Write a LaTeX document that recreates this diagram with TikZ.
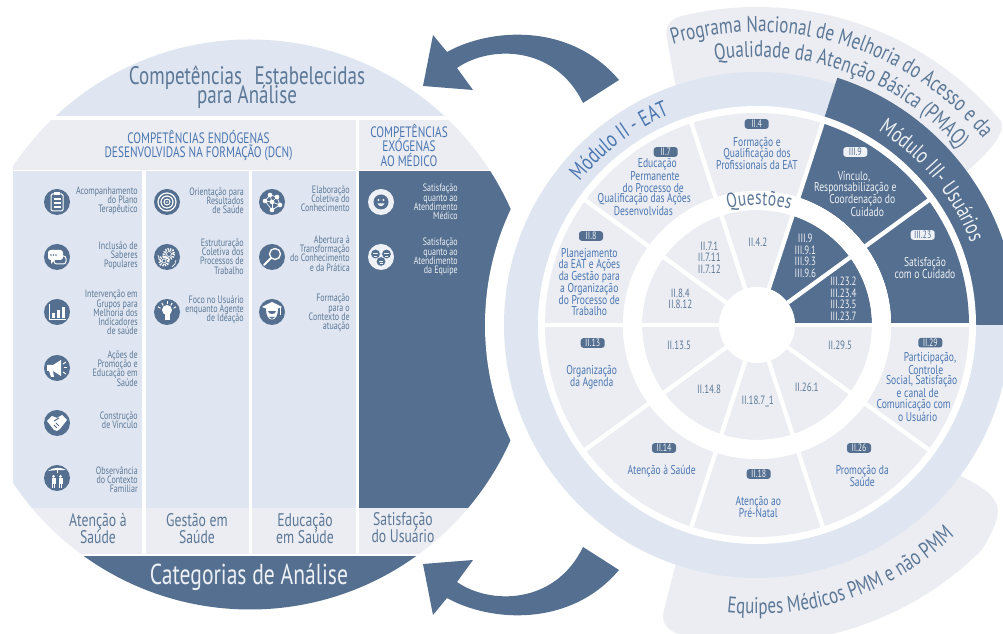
\documentclass[tikz,border=0pt]{standalone}
\usepackage{fontspec}
\setmainfont[FakeStretch=0.75]{PT Sans}
\usetikzlibrary{calc,decorations.text}
\definecolor{dk}{HTML}{546F8F}
\definecolor{lb}{HTML}{DFE5F1}
\definecolor{pl}{HTML}{ECEDF3}
\definecolor{tb}{HTML}{4A76B0}
\definecolor{tg}{HTML}{5C7896}
\definecolor{wi}{HTML}{EEF1F6}
\newcounter{nn}
\newcommand{\tx}[3][]{\stepcounter{nn}\node[#1] (n\thenn) at (#2) {#3};}
\newcommand{\fz}[2]{\fontsize{#1}{#2}\selectfont\lineskiplimit=-100pt\lineskip=0pt\relax}
\newcommand{\annu}[4]{(#1:#3) arc[start angle=#1,end angle=#2,radius=#3] -- (#2:#4) arc[start angle=#2,end angle=#1,radius=#4] -- cycle}
\newcommand{\curved}[6]{\path[decorate,decoration={text along path,text align={fit to path},text={|\fontsize{#5}{#5}\selectfont\color{#6}|#4}}] (#1:#3) arc[start angle=#1,end angle=#2,radius=#3];}
\newcommand{\icon}[3]{\fill[dk] (#1,#2) circle[radius=13];\begin{scope}[shift={(#1,#2)}]#3\end{scope}}
\newcommand{\wicon}[3]{\fill[wi] (#1,#2) circle[radius=13];\begin{scope}[shift={(#1,#2)}]#3\end{scope}}
\tikzset{
 px/.style={x=.75pt,y=-.75pt,yshift=475.5pt},
 lst/.style={inner sep=0,anchor=east,align=right,text=tg,font=\fz{8}{6.9}},
 lstw/.style={lst,text=wi},
 rg/.style={inner sep=0,align=center,text=tb,font=\fz{9.6}{8.8}},
 rd/.style={rg,text=wi},
 inn/.style={inner sep=0,align=center,text=tg,font=\fz{9}{8.6}},
 innd/.style={inn,text=wi},
 foot/.style={inner sep=0,align=center,text=tg,font=\fz{13.7}{12.8}},
 head/.style={inner sep=0,align=center,text=tb,font=\fz{11.3}{11}},
 bd/.style={fill=dk,rounded corners=2pt,minimum width=18pt,minimum height=7.2pt,inner sep=0,text=wi,font=\fz{8}{7}},
 bw/.style={bd,fill=wi,text=dk},
 wl/.style={draw=white,line width=.75pt},
 dl/.style={draw=dk,line width=.75pt},
 div/.style={draw=white,line width=3.2pt},
}
\begin{document}
\begin{tikzpicture}[x=.75pt,y=.75pt]
\useasboundingbox (0,0) rectangle (1003,634);
\clip (0,0) rectangle (1003,634);
\fill[white] (0,0) rectangle (1003,634);
\coordinate (R) at (757,309);
% left panel
\begin{scope}[px]
\begin{scope}
\clip (250,324.5) circle[radius=285];
\clip (13,0) rectangle (600,640);
\fill[lb] (0,0) rectangle (600,116);
\fill[pl] (13,120) rectangle (356,170);
\fill[pl] (359,120) rectangle (600,170);
\fill[lb] (13,171) rectangle (142,508);
\fill[lb] (146,171) rectangle (249,508);
\fill[lb] (252,171) rectangle (356,508);
\fill[dk] (359,171) rectangle (600,508);
\fill[pl] (0,508) rectangle (142,554);
\fill[pl] (146,508) rectangle (249,554);
\fill[pl] (252,508) rectangle (356,554);
\fill[pl] (359,508) rectangle (600,554);
\fill[dk] (0,556) rectangle (600,640);
\end{scope}
\end{scope}
\fill[white] (R) circle[radius=272];
% blobs
\fill[pl] (675,551) -- (667,595) .. controls (664,610) and (672,617) .. ($(R)+(102.7:318)$) arc[start angle=102.7,end angle=40.5,radius=318] .. controls (1005,510) and (1006,496) .. (965,461) -- (R) -- cycle;
\fill[pl] (675,67) -- (664,24) .. controls (660,10) and (668,0) .. ($(R)+(-102:318)$) arc[start angle=-102,end angle=-45,radius=318] .. controls (1006,125) and (1005,135) .. (963,157) -- (R) -- cycle;
% arrows
\fill[dk] (433,599) -- (447,582) .. controls (490,606) and (570,612) .. (619,554) -- (583,531) .. controls (555,589) and (490,589) .. (457,566) -- (473,544) -- (423,548) -- cycle;
\fill[dk] (433,19) -- (447,36) .. controls (490,12) and (570,6) .. (619,64) -- (583,87) .. controls (555,29) and (490,29) .. (457,52) -- (473,74) -- (423,70) -- cycle;
% wheel
\begin{scope}[shift={(R)}]
\fill[lb] (0,0) circle[radius=253];
\fill[dk] (0,0) -- (72:260) arc[start angle=72,end angle=0,radius=260] -- cycle;
\fill[white] (0,0) circle[radius=219];
\fill[pl] (0,0) circle[radius=212];
\fill[dk] \annu{0}{72}{212}{134};
\fill[white] (0,0) circle[radius=134];
\fill[pl] (0,0) circle[radius=115];
\fill[dk] \annu{0}{72}{115}{38};
\foreach \a in {0,36,72,108,144,180,216,252,288,324}{\draw[div] (\a:38) -- (\a:214);}
\fill[white] (0,0) circle[radius=38];
\fill[white] \annu{0}{360}{134}{115};
\curved{106.7}{39.5}{293}{Programa Nacional de Melhoria do Acesso e da}{17}{tg}
\curved{99}{41}{268}{Qualidade da Atenção Básica (PMAQ)}{17}{tg}
\curved{141}{113}{228}{Módulo II - EAT}{17}{tb}
\curved{58}{21}{229}{Módulo III- Usuários}{17}{wi}
\curved{-96}{-48}{289}{Equipes Médicos PMM e não PMM}{17}{tg}
\curved{104}{74}{120}{Questões}{15.5}{tg}
\end{scope}
% texts and icons
\begin{scope}[px]
\tx[inner sep=0,align=center,text=tg,font=\fz{19}{14.3}]{247,87}{Competências\enspace Estabelecidas\\para Análise}
\tx[head]{198.5,145.5}{COMPETÊNCIAS ENDÓGENAS\\DESENVOLVIDAS NA FORMAÇÃO (DCN)}
\tx[head]{409,145.5}{COMPETÊNCIAS\\EXÓGENAS\\AO MÉDICO}
\tx[foot]{98,528.5}{Atenção à\\Saúde}
\tx[foot]{197,528.5}{Gestão em\\Saúde}
\tx[foot]{305,528.5}{Educação\\em Saúde}
\tx[foot]{403,527.5}{Satisfação\\do Usuário}
\tx[inner sep=0,text=wi,font=\fz{21.6}{22}]{249,577}{Categorias de Análise}
% col 1
\tx[lst]{138,201}{Acompanhamento\\do Plano\\Terapêutico}
\tx[lst]{138,256}{Inclusão de\\Saberes\\Populares}
\tx[lst]{138,312.5}{Intervenção em\\Grupos para\\Melhoria dos\\Indicadores\\de saúde}
\tx[lst]{138,368.5}{Ações de\\Promoção e\\Educação em\\Saúde}
\tx[lst]{138,420}{Construção\\de Vínculo}
\tx[lst]{138,479.5}{Observância\\do Contexto\\Familiar}
% col 2
\tx[lst]{244,201}{Orientação para\\Resultados\\de Saúde}
\tx[lst]{244,256.5}{Estruturação\\Coletiva dos\\Processos de\\Trabalho}
\tx[lst]{244,310}{Foco no Usuário\\enquanto Agente\\de Ideação}
% col 3
\tx[lst]{350,199}{Elaboração\\Coletiva do\\Conhecimento}
\tx[lst]{350,253.5}{Abertura à\\Transformação\\do Conhecimento\\e da Prática}
\tx[lst]{350,313}{Formação\\para o\\Contexto de\\atuação}
% col 4
\tx[lstw]{458,202}{Satisfação\\quanto ao\\Atendimento\\Médico}
\tx[lstw]{458,257}{Satisfação\\quanto ao\\Atendimento\\da Equipe}
% icons col 1
\icon{57}{202}{\draw[wl,rounded corners=1pt] (-6,-8) rectangle (6,9);\fill[white] (-3,-10) rectangle (3,-7);\foreach \y in {-3,1,5}{\draw[white,line width=.9pt] (-3.5,\y) -- (3.5,\y);}}
\icon{57}{257}{\draw[wl,rounded corners=2pt] (-3,-1) rectangle (9,7);\fill[white,rounded corners=2pt] (-9,-7) rectangle (6,3);\fill[white] (-6,2) -- (-6,7) -- (-1,2) -- cycle;\foreach \x in {-6,-3.5,-1}{\fill[dk] (\x,-2) circle[radius=.9];}}
\icon{57}{312}{\draw[wl] (-8,-8) -- (-8,8) -- (9,8);\fill[white] (-5.5,1) rectangle (-2,6.5);\fill[white] (-.5,-2) rectangle (3,6.5);\fill[white] (4.5,-5) rectangle (8,6.5);}
\icon{57}{368}{\fill[white] (-10,-3) -- (-4,-3) -- (4,-8) -- (4,8) -- (-4,3) -- (-10,3) -- cycle;\fill[white] (-8,3) -- (-6,9) -- (-3,9) -- (-4,3) -- cycle;\draw[wl] (6,-4) -- (9,-6);\draw[wl] (6.5,0) -- (10,0);\draw[wl] (6,4) -- (9,6);}
\icon{57}{423}{\fill[white] (-10,-2) -- (-5,-7) -- (0,-5) -- (5,-8) -- (10,-3) -- (3,6) -- (0,8) -- (-3,7) -- cycle;\draw[dl] (-3,-2) -- (2,-5);\draw[dl] (-3,2) -- (0,5);\draw[dl] (-1,0) -- (2,3);}
\icon{57}{478}{\fill[white] (-9,-7) .. controls (-4,-11) and (4,-11) .. (9,-8) .. controls (4,-8) and (-4,-8) .. (-9,-7) -- cycle;\draw[wl] (0,-8) -- (0,-5);\foreach \x in {-3.5,3.5}{\fill[white] (\x,-1.5) circle[radius=1.5];\fill[white] (\x-2,.5) rectangle (\x+2,6);\fill[white] (\x-1.5,6) rectangle (\x-.4,10);\fill[white] (\x+.4,6) rectangle (\x+1.5,10);}}
% icons col 2
\icon{167}{202}{\draw[white,line width=.9pt] (0,0) circle[radius=9];\draw[white,line width=.9pt] (0,0) circle[radius=6];\draw[white,line width=.8pt] (0,0) circle[radius=3];\fill[white] (0,0) circle[radius=.8];}
\icon{167}{257}{\draw[white,line width=2pt,dash pattern=on .9pt off .9pt] (2,-3) circle[radius=5];\draw[wl,line width=.5pt] (2,-3) circle[radius=2.5];\draw[white,line width=2pt,dash pattern=on .9pt off .9pt] (-3,4) circle[radius=4.5];\draw[wl,line width=.5pt] (-3,4) circle[radius=2];\draw[wl,line width=.5pt] (-9,-2) arc[start angle=180,end angle=120,radius=8];\draw[wl,line width=.5pt] (9,3) arc[start angle=0,end angle=60,radius=8];}
\icon{167}{312}{\fill[white] (0,-2) circle[radius=5];\fill[white] (-2.5,2) rectangle (2.5,8);\foreach \a in {-60,-30,0,30,60}{\draw[wl] (\a+90:-7.5) -- (\a+90:-10.5);}}
% icons col 3
\icon{272}{202}{\draw[wl,line width=.5pt] (-7,-1) -- (-2,-7) -- (5,-5) -- (8,3) -- (0,8) -- (-7,-1) -- (0,0) -- (8,3);\draw[wl,line width=.5pt] (-2,-7) -- (0,0) -- (5,-5);\draw[wl,line width=.5pt] (0,0) -- (0,8);\foreach \p in {(-7,-1),(-2,-7),(5,-5),(8,3),(0,8),(0,0)}{\fill[white] \p circle[radius=2.3];}}
\icon{272}{257}{\draw[white,line width=1pt] (3,-3) circle[radius=5.5];\draw[white,line width=1.5pt,line cap=round] (-1,1) -- (-8,8);}
\icon{272}{312}{\fill[white] (-6,-3) .. controls (-6,11) and (6,11) .. (6,-3) -- cycle;\fill[dk] (-4,-1) .. controls (-4,3) and (4,3) .. (4,-1) -- cycle;\fill[dk] (-3,5) -- (3,5) -- (0,7) -- cycle;\fill[white] (-10,-5) -- (0,-10) -- (10,-5) -- (0,-1) -- cycle;\draw[wl] (8,-5) -- (8,3);}
% icons col 4
\wicon{381}{202}{\fill[dk] (0,0) circle[radius=7.5];\fill[wi] (-2.5,-2) circle[radius=1.1];\fill[wi] (2.5,-2) circle[radius=1.1];\fill[wi] (-3.5,1.5) .. controls (-2,5) and (2,5) .. (3.5,1.5) -- cycle;}
\wicon{381}{257}{\foreach \x/\y in {-5.5/-3,5.5/-3,0/4.5}{\fill[dk] (\x,\y) circle[radius=4.4];\fill[wi] (\x-2.4,\y-.9) rectangle (\x+2.4,\y+.2);\draw[wi,line width=.5pt] (\x-1.5,\y+2) -- (\x+1.5,\y+2);}}
% badges
\tx[bd]{756.7,124}{II.4}
\tx[bd]{665.7,152}{II.7}
\tx[bd]{591,236}{II.8}
\tx[bw]{855.3,152}{III.9}
\tx[bw]{922.7,235}{III.23}
\tx[bd]{592.7,343}{II.13}
\tx[bd]{664,448}{II.14}
\tx[bd]{758.7,474}{II.18}
\tx[bd]{859,448}{II.26}
\tx[bd]{930.3,342.7}{II.29}
% outer ring labels
\tx[rg]{757,153.5}{Formação e\\Qualificação dos\\Profissionais da EAT}
\tx[rg]{657.3,164.3}{Educação}
\tx[rg]{655,176}{Permanente}
\tx[rg]{653.3,187.7}{do Processo de}
\tx[rg]{644.3,199.3}{Qualificação das Ações}
\tx[rg]{643.3,211}{Desenvolvidas}
\tx[rg]{589.3,282}{Planejamento\\da EAT e Ações\\da Gestão para\\a Organização\\do Processo de\\Trabalho}
\tx[rd]{854,176.7}{Vínculo,}
\tx[rd]{855.3,188.7}{Responsabilização e}
\tx[rd]{862.3,200.3}{Coordenação do}
\tx[rd]{867.3,212}{Cuidado}
\tx[rd]{925,268}{Satisfação\\com o Cuidado}
\tx[rg]{591.7,377.3}{Organização\\da Agenda}
\tx[rg]{661.7,471.7}{Atenção à Saúde}
\tx[rg]{758.3,507}{Atenção ao\\Pré-Natal}
\tx[rg]{862.3,476}{Promoção da\\Saúde}
\tx[rg]{930,358}{Participação,}
\tx[rg]{925.7,369.7}{Controle}
\tx[rg]{921.7,381.3}{Social, Satisfação}
\tx[rg]{917.7,393.3}{e canal de}
\tx[rg]{913.7,405}{Comunicação com}
\tx[rg]{917.7,416.7}{o Usuário}
% inner ring labels
\tx[inn]{757.7,242.7}{II.4.2}
\tx[inn]{709.3,257.7}{II.7.1\\II.7.11\\II.7.12}
\tx[inn]{680.3,299}{II.8.4\\II.8.12}
\tx[innd]{805.3,256}{III.9\\III.9.1\\III.9.3\\III.9.6}
\tx[innd]{843.3,299}{III.23.2\\III.23.4\\III.23.5\\III.23.7}
\tx[inn]{679,345.3}{II.13.5}
\tx[inn]{709,389.3}{II.14.8}
\tx[inn]{757.7,401.7}{II.18.7\_1}
\tx[inn]{806.7,387.3}{II.26.1}
\tx[inn]{840,345.3}{II.29.5}
\end{scope}
\end{tikzpicture}
\end{document}
